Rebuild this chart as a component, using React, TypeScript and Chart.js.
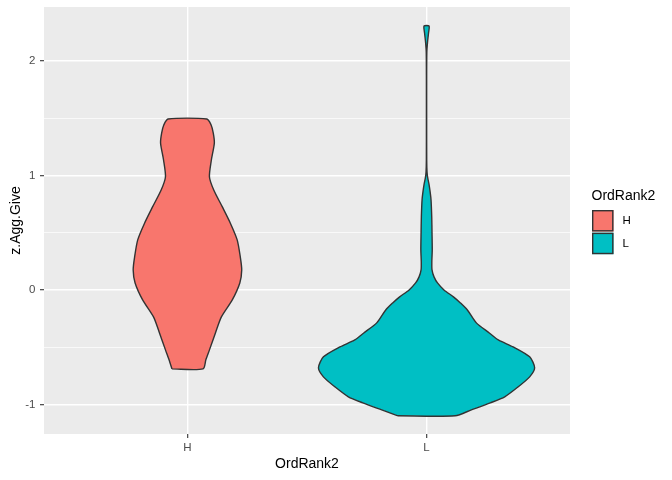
import { useEffect, useRef } from 'react';
import { Chart, registerables } from 'chart.js';

Chart.register(...registerables);

// ---- data ----
const categories = ['H', 'L'];
const xTitle = 'OrdRank2';
const yTitle = 'z.Agg.Give';
const legendTitle = 'OrdRank2';
const yMajorTicks = [-1, 0, 1, 2];
const yMinorTicks = [-0.5, 0.5, 1.5];

// Violin outlines: value levels (top -> bottom) and half widths (category units)
const hLevels = [1.493, 1.441, 1.371, 1.284, 1.135, 0.987, 0.873, 0.725, 0.585, 0.437, 0.288, 0.175, 0.061, -0.087, -0.236, -0.376, -0.524, -0.611, -0.69];
const hHalfWidths = [0.081, 0.099, 0.108, 0.1125, 0.1, 0.092, 0.11, 0.146, 0.179, 0.208, 0.221, 0.227, 0.219, 0.1875, 0.142, 0.117, 0.092, 0.077, 0.065];

const lLevels = [2.306, 2.245, 2.166, 2.079, 1.834, 1.485, 1.135, 1.031, 0.978, 0.926, 0.856, 0.786, 0.638, 0.498, 0.349, 0.245, 0.175, 0.114, 0.061, 0.0, -0.061, -0.114, -0.175, -0.288, -0.376, -0.437, -0.498, -0.585, -0.681, -0.76, -0.847, -0.934, -0.987, -1.048, -1.1];
const lHalfWidths = [0.0104, 0.0083, 0.0042, 0.0013, 0.0006, 0.0006, 0.0008, 0.0021, 0.005, 0.01, 0.015, 0.0188, 0.0217, 0.0229, 0.0238, 0.0221, 0.0229, 0.0313, 0.0458, 0.0729, 0.1125, 0.1417, 0.1708, 0.2083, 0.2625, 0.3, 0.3625, 0.4313, 0.4521, 0.4313, 0.3833, 0.3271, 0.2667, 0.1875, 0.1196];

const violins = [
  { levels: hLevels, half: hHalfWidths },
  { levels: lLevels, half: lHalfWidths },
];

// ---- styles ----
const FONT = '"Liberation Sans", Arial, Helvetica, sans-serif';
const fillColors = ['#F8766D', '#00BFC4'];
const outline = '#333333';

function violinPoints(center: number, levels: number[], half: number[]) {
  const pts: { x: number; y: number }[] = [];
  for (let i = levels.length - 1; i >= 0; i--) pts.push({ x: center - half[i], y: levels[i] });
  for (let i = 0; i < levels.length; i++) pts.push({ x: center + half[i], y: levels[i] });
  pts.push({ ...pts[0] });
  return pts;
}

const panelBg = {
  id: 'panelBg',
  beforeDraw(chart: any) {
    const { ctx, chartArea } = chart;
    ctx.save();
    ctx.fillStyle = '#EBEBEB';
    ctx.fillRect(chartArea.left, chartArea.top, chartArea.right - chartArea.left, chartArea.bottom - chartArea.top);
    ctx.restore();
  },
};

const legendPlugin = {
  id: 'ggLegend',
  afterDraw(chart: any) {
    const { ctx } = chart;
    ctx.save();
    ctx.textBaseline = 'middle';
    ctx.textAlign = 'left';
    ctx.fillStyle = '#000000';
    ctx.font = `14px ${FONT}`;
    ctx.fillText(legendTitle, 591.5, 196);
    categories.forEach((c, i) => {
      const y0 = 210 + i * 22.7;
      ctx.fillStyle = fillColors[i];
      ctx.fillRect(592, y0, 21.5, 21.5);
      ctx.strokeStyle = outline;
      ctx.lineWidth = 1.4;
      ctx.strokeRect(592.7, y0 + 0.7, 20.1, 20.1);
      ctx.fillStyle = '#000000';
      ctx.font = `11.5px ${FONT}`;
      ctx.fillText(c, 622.5, y0 + 11);
    });
    ctx.restore();
  },
};

export default function App() {
  const ref = useRef<HTMLCanvasElement | null>(null);

  useEffect(() => {
    if (!ref.current) return;
    Chart.defaults.font.family = FONT;
    const chart = new Chart(ref.current, {
      type: 'scatter',
      data: {
        datasets: violins.map((v, i) => ({
          label: categories[i],
          data: violinPoints(i + 1, v.levels, v.half),
          showLine: true,
          fill: 'shape',
          backgroundColor: fillColors[i],
          borderColor: outline,
          borderWidth: 1.4,
          pointRadius: 0,
          pointHoverRadius: 0,
          tension: 0.25,
        })),
      } as any,
      options: {
        responsive: false,
        animation: false,
        events: [],
        layout: { padding: { top: 7, right: 102, left: 0, bottom: 0 } },
        plugins: { legend: { display: false }, tooltip: { enabled: false } },
        scales: {
          x: {
            type: 'linear',
            min: 0.4,
            max: 2.6,
            afterBuildTicks: (s: any) => {
              s.ticks = categories.map((_, i) => ({ value: i + 1 }));
            },
            afterFit: (s: any) => {
              s.height = 46;
              s.paddingLeft = 0;
              s.paddingRight = 0;
            },
            ticks: {
              autoSkip: false,
              maxRotation: 0,
              padding: 3,
              color: '#4D4D4D',
              font: { family: FONT, size: 11.5 },
              callback: (v: any) => categories[Math.round(Number(v)) - 1] ?? '',
            },
            grid: {
              color: '#FFFFFF',
              lineWidth: 1.4,
              drawTicks: true,
              tickLength: 4,
              tickColor: outline,
              tickWidth: 1.1,
            },
            border: { display: false },
            title: {
              display: true,
              text: xTitle,
              color: '#000000',
              font: { family: FONT, size: 14 },
              padding: { top: 0, bottom: 7.8 },
            },
          },
          y: {
            type: 'linear',
            min: -1.259,
            max: 2.472,
            afterBuildTicks: (s: any) => {
              s.ticks = [...yMajorTicks, ...yMinorTicks].sort((a, b) => a - b).map((v) => ({ value: v }));
            },
            afterFit: (s: any) => {
              s.width = 44;
              s.paddingTop = 0;
              s.paddingBottom = 0;
            },
            ticks: {
              autoSkip: false,
              padding: 4.5,
              color: '#4D4D4D',
              font: { family: FONT, size: 11.5 },
              callback: (v: any) => (yMajorTicks.includes(Number(v)) ? String(v) : ''),
            },
            grid: {
              color: '#FFFFFF',
              lineWidth: (ctx: any) => (yMajorTicks.includes(ctx.tick?.value) ? 1.4 : 0.7),
              drawTicks: true,
              tickLength: 4,
              tickColor: (ctx: any) => (yMajorTicks.includes(ctx.tick?.value) ? outline : 'rgba(0,0,0,0)'),
              tickWidth: 1.1,
            },
            border: { display: false },
            title: {
              display: true,
              text: yTitle,
              color: '#000000',
              font: { family: FONT, size: 14 },
              padding: { top: 7.6, bottom: 0 },
            },
          },
        },
      } as any,
      plugins: [panelBg, legendPlugin],
    });
    return () => chart.destroy();
  }, []);

  return (
    <div style={{ position: 'fixed', left: 0, top: 0, width: 672, height: 480, background: '#FFFFFF' }}>
      <canvas ref={ref} width={672} height={480} style={{ display: 'block', width: 672, height: 480 }} />
    </div>
  );
}
